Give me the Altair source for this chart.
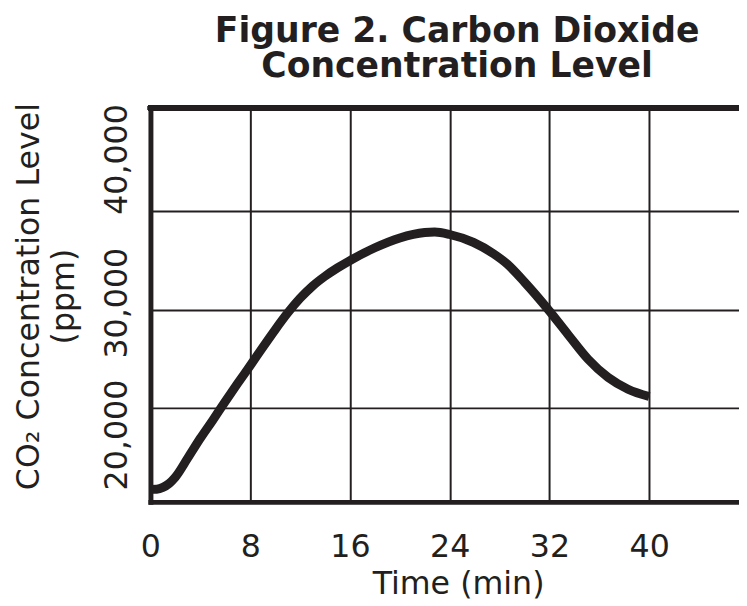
import altair as alt
import pandas as pd

# Data
time_min = [0, 0.5, 1.0, 1.5, 2.0, 3, 4, 5, 6, 7, 8, 9, 10, 11, 12, 13, 14,
            15, 16, 18, 20, 22, 22.8, 24, 25.9, 27.5, 28.6, 30.0, 32.0, 33.5,
            35.1, 36.7, 38.3, 40.0]
co2_ppm = [11700, 11720, 11900, 12300, 12950, 14900, 16900, 18750, 20650, 22500,
           24300, 26150, 27950, 29650, 31150, 32400, 33400, 34250, 35000, 36300,
           37300, 37850, 37900, 37650, 36850, 35700, 34650, 32800, 29850, 27450,
           24950, 23100, 21900, 21150]
x_ticks = [0, 8, 16, 24, 32, 40]
y_ticks = [20000, 30000, 40000]

INK = "#231f20"
FONT = "DejaVu Sans"

df = pd.DataFrame({"t": time_min, "v": co2_ppm})

x_enc = alt.X(
    "t:Q",
    scale=alt.Scale(domain=[0, 47.2], nice=False, zero=False),
    axis=alt.Axis(
        values=x_ticks,
        title="Time (min)",
        grid=True, gridColor=INK, gridWidth=2, gridOpacity=1,
        domainColor=INK, domainWidth=5, domainCap="square",
        ticks=False, tickSize=0,
        labelFont=FONT, labelFontSize=32, labelColor=INK,
        labelBaseline="alphabetic", labelPadding=55,
        labelFlush=False, labelOverlap=False,
        titleFont=FONT, titleFontSize=32, titleFontWeight="normal", titleColor=INK,
        titleX=311, titleY=93, titleAlign="center", titleBaseline="alphabetic",
    ),
)

y_enc = alt.Y(
    "v:Q",
    scale=alt.Scale(domain=[10430, 50510], nice=False, zero=False),
    axis=alt.Axis(
        values=y_ticks,
        format=",d",
        title=["CO\u2082 Concentration Level", "(ppm)"],
        grid=True, gridColor=INK, gridWidth=2, gridOpacity=1,
        domainColor=INK, domainWidth=5, domainCap="square",
        ticks=False, tickSize=0,
        labelFont=FONT, labelFontSize=32, labelColor=INK,
        labelAngle=270, labelAlign="center", labelBaseline="alphabetic",
        labelPadding=24, labelOverlap=False, labelFlush=False,
        labelOffset={
            "condition": [
                {"test": "datum.value == 40000", "value": -53},
                {"test": "datum.value == 20000", "value": 27},
            ],
            "value": -7,
        },
        titleFont=FONT, titleFontSize=32, titleFontWeight="normal", titleColor=INK,
        titleAngle=270, titleX=-113, titleY=190, titleAlign="center",
        titleBaseline="alphabetic", titleLineHeight=35,
    ),
)

curve = alt.Chart(df).mark_line(
    color=INK, strokeWidth=9, interpolate="monotone", strokeCap="butt", clip=True
).encode(x=x_enc, y=y_enc)

top_border = alt.Chart(df).mark_rule(
    color=INK, strokeWidth=5, strokeCap="square"
).encode(y=alt.value(0))

chart = alt.layer(curve, top_border).properties(
    width=595,
    height=398,
    title=alt.TitleParams(
        text=["Figure 2. Carbon Dioxide", "Concentration Level"],
        font=FONT, fontSize=35, fontWeight="bold", color=INK,
        anchor="middle", frame="group", dx=12.5, offset=19, lineHeight=35,
    ),
    autosize=alt.AutoSizeParams(type="none"),
    padding={"left": 144, "top": 98, "right": 0, "bottom": 100},
).configure_view(stroke=None).configure(background="white")

chart.save("out.html", embed_options={"renderer": "svg", "actions": False})
